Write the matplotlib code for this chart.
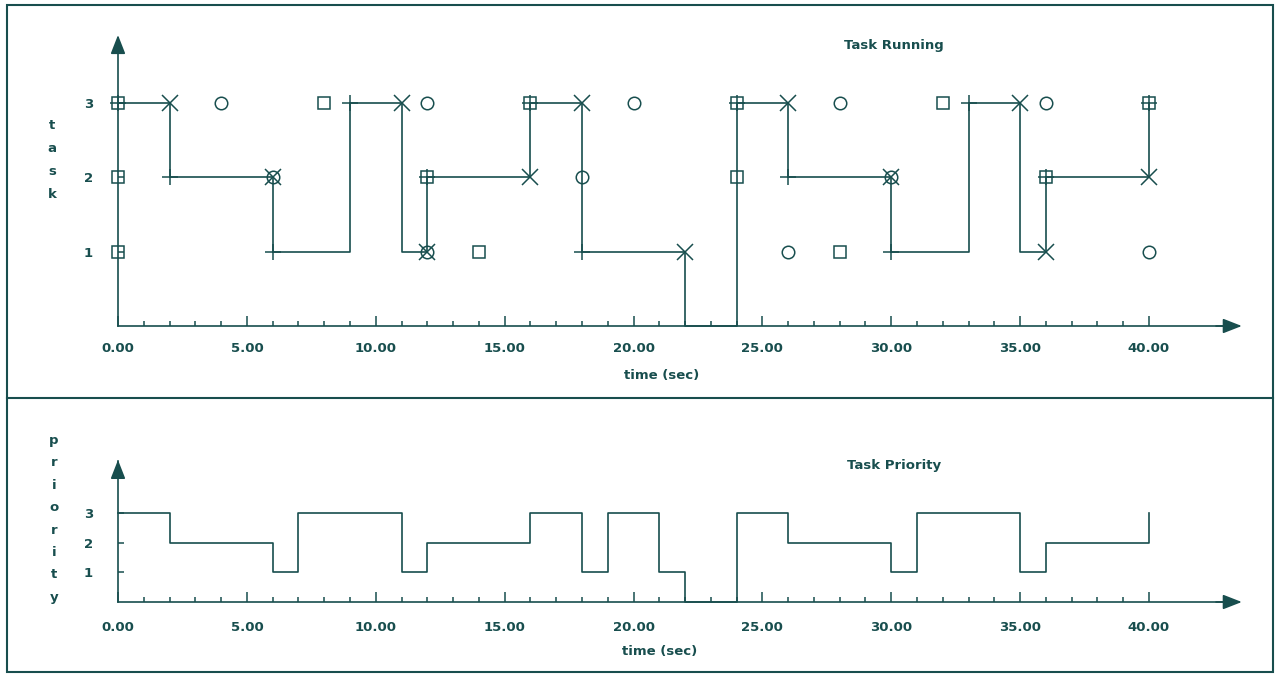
import matplotlib
matplotlib.use('Agg')
import matplotlib.pyplot as plt
from matplotlib.lines import Line2D
from matplotlib.patches import Rectangle

W, H, DPI = 1278, 677, 100
C = '#184e4e'
FS = 9.5
FW = 'bold'
plt.rcParams['font.family'] = ['DejaVu Sans']

# ---------------- data ----------------
# running task (steps-post): task running from run_t[i] to run_t[i+1]
run_t = [0, 2, 6, 9, 11, 12, 16, 18, 22, 24, 26, 30, 33, 35, 36, 40]
run_task = [3, 2, 1, 3, 1, 2, 3, 1, 0, 3, 2, 1, 3, 1, 2, 3]

# job releases (squares)
rel_t = [0, 8, 16, 24, 32, 40, 0, 12, 24, 36, 0, 14, 28]
rel_task = [3, 3, 3, 3, 3, 3, 2, 2, 2, 2, 1, 1, 1]

# deadlines (circles)
dl_t = [4, 12, 20, 28, 36, 6, 18, 30, 12, 26, 40]
dl_task = [3, 3, 3, 3, 3, 2, 2, 2, 1, 1, 1]

# completions (x)
done_t = [2, 6, 11, 12, 16, 18, 22, 26, 30, 35, 36, 40]
done_task = [3, 2, 3, 1, 2, 3, 1, 3, 2, 3, 1, 2]

# job starts (+)
start_t = [0, 2, 6, 9, 12, 16, 18, 24, 26, 30, 33, 36, 40]
start_task = [3, 2, 1, 3, 2, 3, 1, 3, 2, 1, 3, 2, 3]

# priority (steps-post)
prio_t = [0, 2, 6, 7, 11, 12, 16, 18, 19, 21, 22, 24, 26, 30, 31, 35, 36, 40]
prio_v = [3, 2, 1, 3, 1, 2, 3, 1, 3, 1, 0, 3, 2, 1, 3, 1, 2, 3]

x_major = [0, 5, 10, 15, 20, 25, 30, 35, 40]
x_labels = ['0.00', '5.00', '10.00', '15.00', '20.00', '25.00', '30.00', '35.00', '40.00']
y_ticks = [1, 2, 3]
y_labels = ['1', '2', '3']

fig = plt.figure(figsize=(W / DPI, H / DPI), dpi=DPI)
fig.patch.set_facecolor('white')


def make_ax(pl, pr, pt, pb, x0, xs, y0, ys, xtip, ytip, xpad):
    ax = fig.add_axes([pl / W, 1 - pb / H, (pr - pl) / W, (pb - pt) / H])
    ax.set_xlim((pl - x0) / xs, (pr - x0) / xs)
    ax.set_ylim((y0 - pb) / ys, (y0 - pt) / ys)
    ax.patch.set_alpha(0)
    for s in ('top', 'right'):
        ax.spines[s].set_visible(False)
    ax.spines['left'].set_position(('data', 0))
    ax.spines['bottom'].set_position(('data', 0))
    ax.spines['left'].set_bounds(0, ytip - 0.05)
    ax.spines['bottom'].set_bounds(0, xtip - 0.3)
    for s in ('left', 'bottom'):
        ax.spines[s].set_color(C)
        ax.spines[s].set_linewidth(1.2)
    ax.set_xticks(x_major)
    ax.set_xticklabels(x_labels, fontweight=FW)
    ax.set_xticks(range(1, 40), minor=True)
    ax.set_yticks(y_ticks)
    ax.set_yticklabels(y_labels, fontweight=FW)
    ax.tick_params(axis='x', which='major', direction='in', length=7.2, width=1.1,
                   color=C, labelcolor=C, labelsize=FS, pad=xpad)
    ax.tick_params(axis='x', which='minor', direction='in', length=3.6, width=1.1, color=C)
    ax.tick_params(axis='y', which='major', direction='in', length=4, width=1.1,
                   color=C, labelcolor=C, labelsize=FS, pad=18)
    ap = dict(arrowstyle='-|>,head_length=1.15,head_width=0.45', color=C, lw=1.2,
              shrinkA=0, shrinkB=0)
    ax.annotate('', xy=(xtip, 0), xytext=(xtip - 1.0, 0), arrowprops=ap, annotation_clip=False)
    ax.annotate('', xy=(0, ytip), xytext=(0, ytip - 0.2), arrowprops=ap, annotation_clip=False)
    return ax


# ---------------- top: task running ----------------
ax1 = make_ax(100, 1255, 25, 338, 118, 25.775, 326, 74.5, 43.6, 3.906, 11.5)
lkw = dict(color=C, lw=1.2, clip_on=False)
ax1.plot(run_t, run_task, drawstyle='steps-post', **lkw)
mk = dict(ls='none', color=C, mec=C, mfc='none', mew=1.1, clip_on=False, zorder=4)
ax1.plot(rel_t, rel_task, marker='s', ms=9, **mk)
ax1.plot(dl_t, dl_task, marker='o', ms=9, **mk)
ax1.plot(done_t, done_task, marker='x', ms=12, **mk)
ax1.plot(start_t, start_task, marker='+', ms=11, **mk)

# ---------------- bottom: priority ----------------
ax2 = make_ax(100, 1255, 450, 612, 118, 25.775, 602, 29.6, 43.6, 4.80, 13.7)
ax2.plot(prio_t, prio_v, drawstyle='steps-post', **lkw)

# ---------------- texts ----------------
tk = dict(color=C, fontsize=FS, fontweight=FW, ha='center', va='center')
fig.text(894 / W, 1 - 45 / H, 'Task Running', **tk)
fig.text(894 / W, 1 - 466 / H, 'Task Priority', **tk)
fig.text(662 / W, 1 - 375 / H, 'time (sec)', **tk)
fig.text(660 / W, 1 - 651 / H, 'time (sec)', **tk)
fig.text(52 / W, 1 - 160 / H, 't\na\ns\nk', linespacing=1.98, **tk)
fig.text(54 / W, 1 - 519 / H, 'p\nr\ni\no\nr\ni\nt\ny', linespacing=1.94, **tk)

# ---------------- frame ----------------
fig.add_artist(Rectangle((7 / W, 1 - 672 / H), (1273 - 7) / W, (672 - 5) / H,
                         transform=fig.transFigure, fill=False, ec=C, lw=1.5))
fig.add_artist(Line2D([7 / W, 1273 / W], [1 - 398 / H, 1 - 398 / H],
                      transform=fig.transFigure, color=C, lw=1.5))

fig.savefig('out.png', dpi=DPI, facecolor='white')
